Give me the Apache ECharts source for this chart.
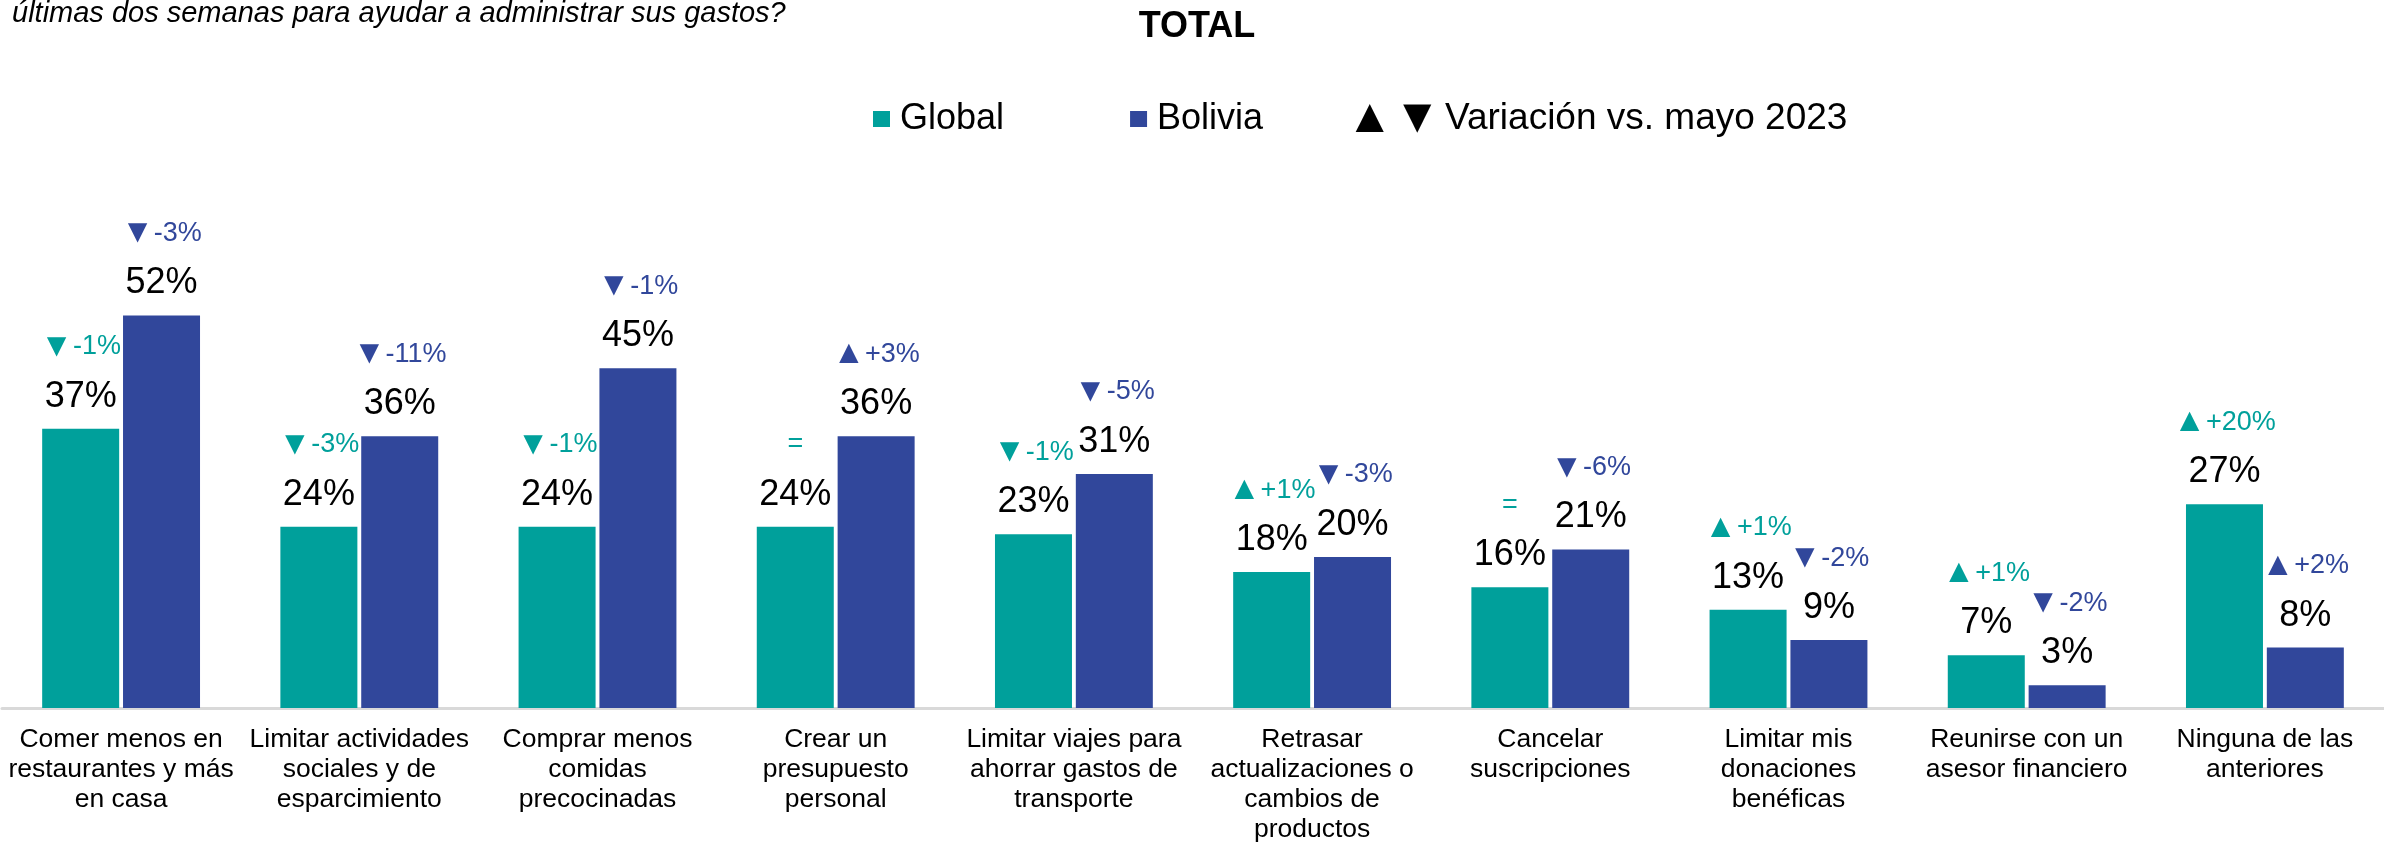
<!DOCTYPE html>
<html lang="es">
<head>
  <meta charset="UTF-8">
  <title>TOTAL</title>
  <script src="https://cdn.jsdelivr.net/npm/echarts@6/dist/echarts.min.js"></script>
  <style>
    html, body { margin: 0; padding: 0; background: #fff; }
  </style>
</head>
<body>
<div id="main" style="width: 2384px;height:845px;"></div>
<script type="text/javascript">
  // datos del grafico
  var categories = [
    'Comer menos en\nrestaurantes y más\nen casa',
    'Limitar actividades\nsociales y de\nesparcimiento',
    'Comprar menos\ncomidas\nprecocinadas',
    'Crear un\npresupuesto\npersonal',
    'Limitar viajes para\nahorrar gastos de\ntransporte',
    'Retrasar\nactualizaciones o\ncambios de\nproductos',
    'Cancelar\nsuscripciones',
    'Limitar mis\ndonaciones\nbenéficas',
    'Reunirse con un\nasesor financiero',
    'Ninguna de las\nanteriores'
  ];
  var globalValues  = [37, 24, 24, 24, 23, 18, 16, 13, 7, 27];
  var boliviaValues = [52, 36, 45, 36, 31, 20, 21, 9, 3, 8];
  var globalChange  = ['▼-1%', '▼-3%', '▼-1%', '=', '▼-1%', '▲+1%', '=', '▲+1%', '▲+1%', '▲+20%'];
  var boliviaChange = ['▼-3%', '▼-11%', '▼-1%', '▲+3%', '▼-5%', '▼-3%', '▼-6%', '▼-2%', '▼-2%', '▲+2%'];

  var TEAL = '#00A09B';
  var BLUE = '#31479B';
  var FONT = 'Liberation Sans';

  function barLabel(changes, color) {
    return {
      show: true,
      position: 'top',
      distance: 12,
      fontFamily: FONT,
      formatter: function (p) {
        var c = changes[p.dataIndex];
        var first = c.charAt(0);
        var top;
        if (first === '▲' || first === '▼') {
          top = '{t|' + first + '}{g|' + c.slice(1) + '}';
        } else {
          top = '{g|' + c + '}';
        }
        return top + '\n{v|' + p.value + '%}';
      },
      rich: {
        t: { fontFamily: FONT, fontSize: 33, lineHeight: 60, color: color },
        g: { fontFamily: FONT, fontSize: 27, lineHeight: 60, color: color },
        v: { fontFamily: FONT, fontSize: 36, lineHeight: 40, color: '#000' }
      }
    };
  }

  var myChart = echarts.init(document.getElementById('main'));
  myChart.setOption({
    animation: false,
    textStyle: { fontFamily: FONT },
    legend: {
      data: ['Global', 'Bolivia'],
      icon: 'rect',
      itemWidth: 17,
      itemHeight: 16,
      itemGap: 126,
      left: 873,
      top: 99,
      padding: 0,
      textStyle: { fontFamily: FONT, fontSize: 36, lineHeight: 40, color: '#000', padding: [0, 0, 0, 5] }
    },
    graphic: [
      {
        type: 'text', x: 12, y: 14,
        style: { text: 'últimas dos semanas para ayudar a administrar sus gastos?', font: 'italic 29px "Liberation Sans"', fill: '#000', textAlign: 'left', textVerticalAlign: 'middle' }
      },
      {
        type: 'text', x: 1197, y: 27,
        style: { text: 'TOTAL', font: 'bold 36px "Liberation Sans"', fill: '#000', textAlign: 'center', textVerticalAlign: 'middle' }
      },
      {
        type: 'text', x: 1346, y: 119,
        style: {
          text: '{t|▲▼}{l|Variación vs. mayo 2023}',
          fill: '#000', textAlign: 'left', textVerticalAlign: 'middle',
          rich: {
            t: { fontFamily: FONT, fontSize: 48, lineHeight: 50, fill: '#000' },
            l: { fontFamily: FONT, fontSize: 37, lineHeight: 50, fill: '#000', padding: [0, 0, 0, 4] }
          }
        }
      }
    ],
    grid: { left: 2, right: -22, top: 104, bottom: 136 },
    xAxis: {
      type: 'category',
      data: categories,
      axisTick: { show: false },
      axisLine: { lineStyle: { color: '#D9D9D9', width: 3 } },
      axisLabel: { interval: 0, fontFamily: FONT, fontSize: 26.5, lineHeight: 30, color: '#000', margin: 17 }
    },
    yAxis: { type: 'value', min: 0, max: 80, show: false, splitLine: { show: false } },
    series: [
      {
        name: 'Global', type: 'bar', data: globalValues,
        barWidth: 77, barGap: '5%',
        itemStyle: { color: TEAL },
        label: barLabel(globalChange, TEAL)
      },
      {
        name: 'Bolivia', type: 'bar', data: boliviaValues,
        barWidth: 77, barGap: '5%',
        itemStyle: { color: BLUE },
        label: barLabel(boliviaChange, BLUE)
      }
    ]
  });
</script>
</body>
</html>
